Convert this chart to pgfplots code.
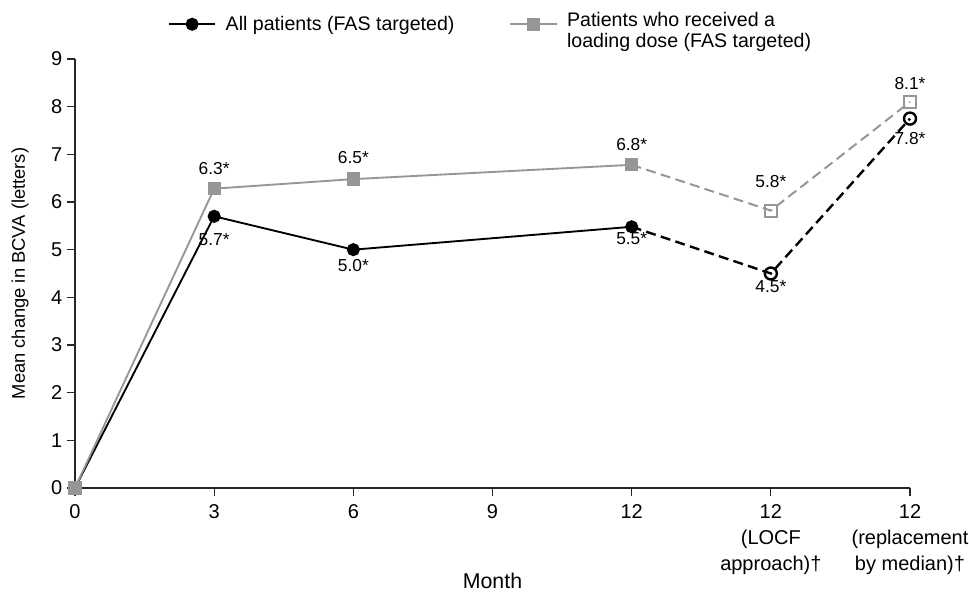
\documentclass[border=0pt]{standalone}
\usepackage{fontspec}
\setmainfont{Liberation Sans}
\usepackage{pgfplots}
\pgfplotsset{compat=1.18}
\definecolor{lgray}{RGB}{150,150,150}
\newcommand{\lab}[5]{% x, y, text, align, yshift
  \addplot[forget plot, draw=none, nodes near coords, point meta=explicit symbolic,
    nodes near coords align={#4},
    every node near coord/.append style={font=\fontsize{13}{15}\selectfont, yshift=#5}]
    coordinates {(#1,#2) [#3]};}
\begin{document}
\begin{tikzpicture}[x=1pt,y=1pt,font=\fontsize{15}{19}\selectfont]
\begin{axis}[
  name=ax,
  scale only axis,
  width=626.25pt, height=321.75pt,
  xmin=0, xmax=6, ymin=0, ymax=9,
  enlargelimits=false,
  axis x line*=bottom, axis y line*=left,
  axis line style={-, black!85, line width=0.9pt},
  tick style={black!85, line width=0.9pt},
  tick align=outside,
  major tick length=6pt,
  xtick={0,1,2,3,4,5,6},
  xticklabels={0,3,6,9,12,{12\\(LOCF\\approach)†},{12\\(replacement\\by median)†}},
  xticklabel style={align=center, font=\fontsize{15}{19.5}\selectfont, yshift=-3pt},
  yticklabel style={font=\fontsize{15}{19}\selectfont},
  ytick={0,...,9},
  /pgf/number format/assume math mode=true,
  xlabel={Month},
  xlabel style={font=\fontsize{16}{19}\selectfont, yshift=8.25pt},
  ylabel={Mean change in BCVA (letters)},
  ylabel style={font=\fontsize{13.75}{16}\selectfont, yshift=10pt},
  clip=false,
  legend columns=2,
  legend style={draw=none, fill=none, at={(axis description cs:0.498,1.081)}, anchor=center,
    /tikz/every even column/.append style={column sep=39pt},
    /tikz/every odd column/.append style={column sep=5pt},
    font=\fontsize{14.7}{17.5}\selectfont},
  legend cell align=left,
  legend image code/.code={\draw[mark repeat=2,mark phase=2,#1] plot coordinates {(0pt,0pt) (17.5pt,0pt) (35pt,0pt)};},
]
% dashed parts
\addplot[forget plot, black, line width=1.8pt, dash pattern=on 7.5pt off 4pt,
  mark=o, mark size=4.5pt, mark options={solid, fill=white, line width=1.8pt}, mark indices={2,3}]
  coordinates {(4,5.48) (5,4.5) (6,7.75)};
\addplot[forget plot, lgray, line width=1.5pt, dash pattern=on 7.5pt off 4pt,
  mark=square, mark size=4.5pt, mark options={solid, fill=white, line width=1.6pt}, mark indices={2,3}]
  coordinates {(4,6.78) (5,5.82) (6,8.1)};
% solid parts
\addplot[black, line width=1.4pt, mark=*, mark size=4.2pt]
  coordinates {(0,0) (1,5.7) (2,5.0) (4,5.48)};
\addlegendentry{All patients (FAS targeted)}
\addplot[lgray, line width=1.4pt, mark=square*, mark size=4.3pt]
  coordinates {(0,0) (1,6.28) (2,6.48) (4,6.78)};
\addlegendentry{\begin{tabular}[c]{@{}l@{}}Patients who received a\\[-1.5pt]loading dose (FAS targeted)\end{tabular}}
% value labels
\lab{1}{6.28}{6.3*}{above}{6.75pt}
\lab{2}{6.48}{6.5*}{above}{8.25pt}
\lab{4}{6.78}{6.8*}{above}{6.75pt}
\lab{5}{5.82}{5.8*}{above}{13.5pt}
\lab{6}{8.1}{8.1*}{above}{6pt}
\lab{1}{5.7}{5.7*}{below}{-9.75pt}
\lab{2}{5.0}{5.0*}{below}{-3.75pt}
\lab{4}{5.48}{5.5*}{below}{-0.75pt}
\lab{5}{4.5}{4.5*}{below}{-1.5pt}
\lab{6}{7.75}{7.8*}{below}{-6.75pt}
\end{axis}
\pgfresetboundingbox
\useasboundingbox (-56.25pt,-78pt) rectangle (670.5pt,366pt);
\end{tikzpicture}
\end{document}
